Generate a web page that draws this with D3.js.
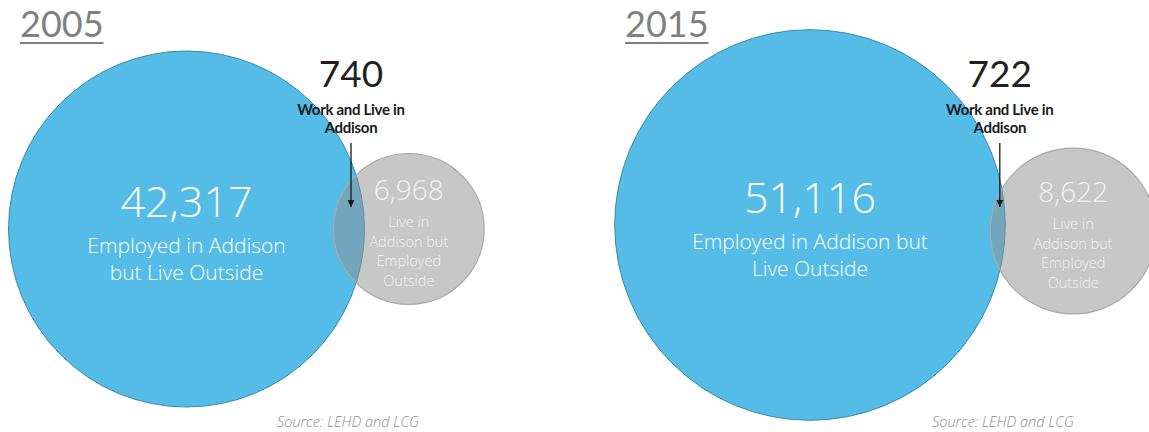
<!DOCTYPE html>
<html lang="en">
<head>
  <meta charset="UTF-8">
  <title>Addison Inflow / Outflow 2005 vs 2015</title>
  <script src="https://d3js.org/d3.v7.min.js"></script>
  <style>
    body { margin: 0; background: #fff; }
    svg { display: block; font-family: Lato, "Open Sans", sans-serif; }
    .light { font-family: "Open Sans", Lato, sans-serif; font-weight: 300; }
  </style>
</head>
<body>
<div id="chart"></div>
<script>
// data
const years = ["2005", "2015"];
const employedOutside = [42317, 51116];   // work in Addison, live outside
const workAndLive = [740, 722];           // work and live in Addison
const liveOutside = [6968, 8622];         // live in Addison, work outside
const bigLabels = [["Employed in Addison", "but Live Outside"], ["Employed in Addison but", "Live Outside"]];
const smallLabel = ["Live in", "Addison but", "Employed", "Outside"];
const bothLabel = ["Work and Live in", "Addison"];
const sourceText = "Source: LEHD and LCG";

const W = 1149, H = 432;

// panel layout (positions only)
const panels = [
  { titleX: 20, cx: 186.5, cy: 229, gcy: 229, overlap: 31, sourceX: 277 },
  { titleX: 625, cx: 810, cy: 225, gcy: 231, overlap: 15, sourceX: 932 }
];

const svg = d3.select("#chart").append("svg")
  .attr("width", W)
  .attr("height", H);

svg.append("defs").append("marker")
  .attr("id", "head")
  .attr("viewBox", "0 0 10 10")
  .attr("refX", 10).attr("refY", 5)
  .attr("markerWidth", 7).attr("markerHeight", 8)
  .attr("markerUnits", "userSpaceOnUse")
  .attr("orient", "auto")
  .append("path")
  .attr("d", "M0,0L10,5L0,10Z")
  .attr("fill", "#1a1a1a");

// circle area proportional to total count in each set
const r = d3.scaleSqrt()
  .domain([0, employedOutside[0] + workAndLive[0]])
  .range([0, 178]);

years.forEach((yr, i) => {
  const p = panels[i];
  const g = svg.append("g");

  // title
  const title = g.append("text")
    .attr("x", p.titleX).attr("y", 37)
    .attr("font-size", 36)
    .attr("fill", "#808082")
    .text(yr);
  const tw = title.node().getComputedTextLength();
  g.append("line")
    .attr("x1", p.titleX).attr("x2", p.titleX + tw)
    .attr("y1", 43).attr("y2", 43)
    .attr("stroke", "#808082").attr("stroke-width", 2);

  const rBig = r(employedOutside[i] + workAndLive[i]);
  const rSmall = r(liveOutside[i] + workAndLive[i]);
  const gcx = p.cx + rBig + rSmall - p.overlap;

  g.append("circle")
    .attr("cx", p.cx).attr("cy", p.cy).attr("r", rBig)
    .attr("fill", "#54bce6")
    .attr("stroke", "#3f8aa6").attr("stroke-width", 1);

  g.append("circle")
    .attr("cx", gcx).attr("cy", p.gcy).attr("r", rSmall)
    .attr("fill", "#909092").attr("fill-opacity", 0.5)
    .attr("stroke", "#a9a9ab").attr("stroke-width", 1.2);

  // big circle text
  g.append("text")
    .attr("class", "light")
    .attr("x", p.cx).attr("y", p.cy - 12)
    .attr("text-anchor", "middle")
    .attr("font-size", 43)
    .attr("fill", "#fff")
    .text(d3.format(",")(employedOutside[i]));
  bigLabels[i].forEach((t, k) => {
    g.append("text")
      .attr("class", "light")
      .attr("x", p.cx).attr("y", p.cy + 24 + k * 27)
      .attr("text-anchor", "middle")
      .attr("font-size", 21)
      .attr("fill", "#fff")
      .text(t);
  });

  // small circle text
  g.append("text")
    .attr("class", "light")
    .attr("x", gcx).attr("y", p.gcy - 29)
    .attr("text-anchor", "middle")
    .attr("font-size", 28)
    .attr("fill", "#f2f2f2")
    .text(d3.format(",")(liveOutside[i]));
  smallLabel.forEach((t, k) => {
    g.append("text")
      .attr("class", "light")
      .attr("x", gcx).attr("y", p.gcy - 2 + k * 19.5)
      .attr("text-anchor", "middle")
      .attr("font-size", 14.5)
      .attr("fill", "#f2f2f2")
      .text(t);
  });

  // overlap callout
  const ax = (gcx - rSmall + p.cx + rBig) / 2 + 2;
  g.append("text")
    .attr("x", ax).attr("y", 87)
    .attr("text-anchor", "middle")
    .attr("font-size", 37)
    .attr("fill", "#231f20")
    .text(d3.format(",")(workAndLive[i]));
  bothLabel.forEach((t, k) => {
    g.append("text")
      .attr("x", ax).attr("y", 115 + k * 18)
      .attr("text-anchor", "middle")
      .attr("font-size", 15).attr("font-weight", 700)
      .attr("letter-spacing", -0.3)
      .attr("fill", "#1a1a1a")
      .text(t);
  });
  g.append("line")
    .attr("x1", ax).attr("x2", ax)
    .attr("y1", 143).attr("y2", 207)
    .attr("stroke", "#1a1a1a").attr("stroke-width", 1.3)
    .attr("marker-end", "url(#head)");

  // source
  g.append("text")
    .attr("class", "light")
    .attr("x", p.sourceX).attr("y", 427)
    .attr("font-size", 14.5).attr("font-style", "italic")
    .attr("fill", "#8c8c8c")
    .text(sourceText);
});
</script>
</body>
</html>
